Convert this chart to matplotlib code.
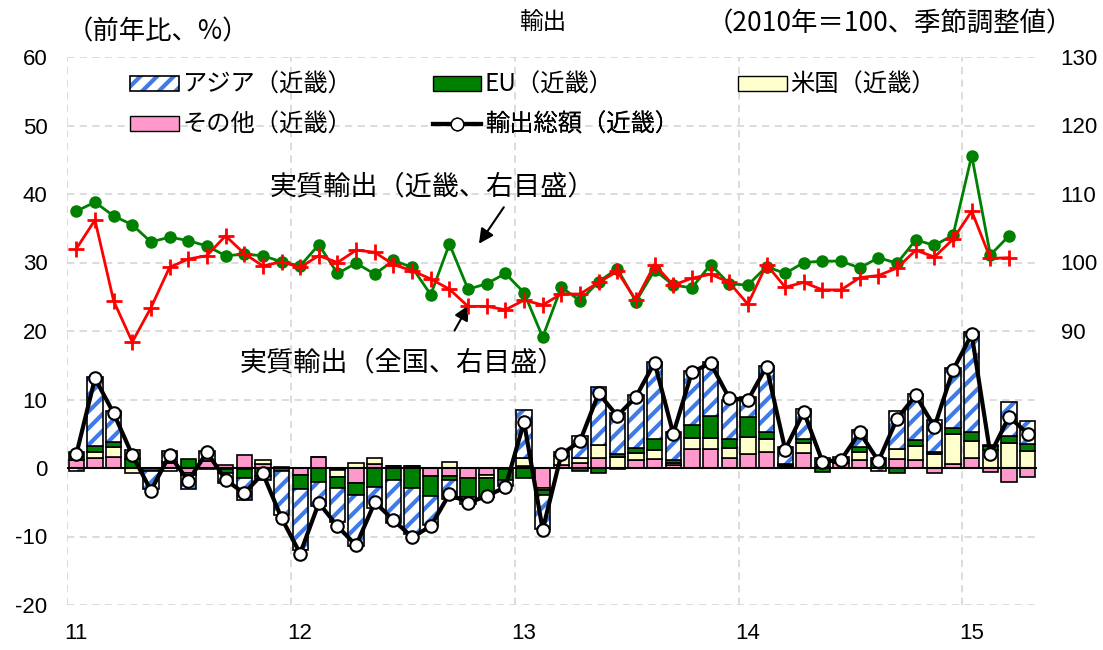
import numpy as np
import matplotlib.pyplot as plt
from matplotlib.patches import Patch
from matplotlib.lines import Line2D

plt.rcParams['font.family'] = ['Noto Sans CJK JP', 'DejaVu Sans']
plt.rcParams['hatch.linewidth'] = 3.0
plt.rcParams['axes.unicode_minus'] = False

# contributions to y/y change of Kinki exports (% pt), Jan 2011 - Apr 2015
asia = [-0.4, 10.1, 4.5, 1.3, -2.6, 1.6, -2.0, 1.5, -1.5, -3.3,
        -0.7, -6.4, -8.8, -3.6, -5.0, -7.5, -3.0, -6.3, -6.7, -4.2,
        -2.8, -0.9, 0.0, -1.0, 7.0, -5.0, 0.5, 3.2, 8.4, 6.0,
        7.8, 11.3, 4.0, 7.9, 7.9, 5.8, 2.9, 9.7, 2.4, 4.4,
        1.4, 0.6, 2.4, -0.5, 5.5, 6.7, 4.7, 8.8, 14.6, 0.2,
        4.9, 3.3]
eu = [1.2, 0.85, 0.8, 1.3, -0.4, 0.2, 1.3, -0.2, -0.5, -1.2,
      -1.1, -0.5, -2.1, -2.0, -1.6, -1.7, -2.8, -1.7, -2.9, -3.0,
      -0.5, -2.9, -2.8, -1.5, -1.5, -0.7, 0.0, -0.4, -0.7, 0.5,
      0.7, 1.5, 0.5, 1.9, 3.2, 1.3, 3.0, 1.0, 0.1, 0.6,
      -0.6, 0.2, 0.7, 1.5, -0.8, 0.9, 0.3, 0.9, 1.3, 0.6,
      1.0, 1.0]
us = [0.1, 0.8, 1.5, -0.7, 0.0, -0.5, -0.2, 0.0, -0.2, -0.2,
      0.6, 0.1, 0.0, 0.0, -1.0, 0.8, 0.8, 0.0, 0.0, 0.0,
      0.9, 0.0, -0.5, 0.0, 1.2, -0.3, 1.3, 0.8, 2.0, 1.6,
      1.0, 1.4, 0.2, 1.6, 1.6, 1.4, 2.4, 1.9, 0.2, 1.4,
      0.1, 0.1, 1.3, 0.0, 1.5, 2.1, 2.0, 4.3, 2.4, 2.6,
      3.7, 2.5]
other = [1.1, 1.5, 1.55, 0.0, 0.0, 0.7, -0.8, 1.0, 0.5, 1.9,
         0.6, 0.0, -1.0, 1.6, -0.3, -2.2, 0.6, 0.3, 0.3, -1.1,
         -1.2, -1.4, -1.0, -0.2, 0.3, -2.9, 0.5, 0.7, 1.4, -0.2,
         1.2, 1.3, 0.5, 2.8, 2.8, 1.5, 2.1, 2.3, 0.3, 2.2,
         0.0, 0.7, 1.1, 0.0, 1.3, 1.1, -0.8, 0.6, 1.5, -0.6,
         -2.0, -1.3]
total = [2.0, 13.1, 8.0, 1.9, -3.3, 1.9, -1.9, 2.3, -1.7, -3.7,
         -0.8, -7.3, -12.5, -5.1, -8.5, -11.3, -5.0, -7.6, -10.1, -8.5,
         -3.8, -5.1, -4.1, -2.8, 6.7, -9.0, 2.0, 3.9, 10.9, 7.6,
         10.4, 15.4, 5.0, 14.0, 15.3, 10.2, 9.9, 14.8, 2.7, 8.2,
         0.9, 1.2, 5.2, 1.0, 7.2, 10.6, 6.0, 14.3, 19.5, 2.0,
         7.5, 5.0]

# real exports (2010=100, s.a.), Jan 2011 - Mar 2015
real_kinki = [107.5, 108.8, 106.8, 105.5, 103.0, 103.7, 103.2, 102.4, 101.0, 101.2,
              101.0, 100.1, 99.5, 102.6, 98.4, 99.9, 98.3, 100.3, 99.3, 95.3,
              102.7, 96.1, 96.9, 98.4, 95.6, 89.1, 96.4, 94.4, 97.2, 99.1,
              94.3, 98.9, 96.7, 96.3, 99.7, 96.9, 96.7, 99.4, 98.4, 100.0,
              100.2, 100.2, 99.2, 100.7, 99.9, 103.3, 102.5, 104.0, 115.6, 101.1,
              103.9]
real_zenkoku = [102.0, 106.2, 94.4, 88.4, 93.4, 99.3, 100.5, 101.0, 103.9, 101.3,
                99.5, 100.1, 99.3, 101.0, 100.0, 101.8, 101.5, 99.7, 98.8, 97.6,
                96.1, 93.6, 93.6, 93.1, 94.5, 93.8, 95.4, 95.4, 97.1, 98.7,
                94.5, 99.7, 96.7, 97.7, 98.3, 97.1, 93.9, 99.7, 96.4, 97.1,
                96.0, 96.0, 97.8, 98.1, 99.2, 101.8, 100.8, 103.4, 107.5, 100.6,
                100.7]

year_labels = ['11', '12', '13', '14', '15']

c_asia = '#3f7be8'
c_eu = '#008000'
c_us = '#ffffcc'
c_other = '#ff99cc'

fig = plt.figure(figsize=(11.03, 6.5), dpi=100)
ax = fig.add_axes([67 / 1103, 45 / 650, 970 / 1103, 548 / 650])

x = np.arange(len(total)) + 0.5
w = 0.82
pos = np.zeros(len(total))
neg = np.zeros(len(total))
for vals, fc in [(other, c_other), (us, c_us), (eu, c_eu), (asia, None)]:
    v = np.array(vals)
    bottom = np.where(v >= 0, pos, neg)
    if fc is None:
        ax.bar(x, v, w, bottom=bottom, color='white', edgecolor=c_asia,
               hatch='//', linewidth=0, zorder=2)
        ax.bar(x, v, w, bottom=bottom, fill=False, edgecolor='black',
               linewidth=1.2, zorder=2)
    else:
        ax.bar(x, v, w, bottom=bottom, color=fc, edgecolor='black',
               linewidth=1.2, zorder=2)
    pos += np.where(v >= 0, v, 0)
    neg += np.where(v < 0, v, 0)

ax.axhline(0, color='black', lw=1.5, zorder=3)
ax.plot(x, total, color='black', lw=3, marker='o', ms=9, mfc='white',
        mec='black', mew=1.5, zorder=5)

ax.set_xlim(0, len(total))
ax.set_ylim(-20, 60)
ax.set_yticks(range(-20, 61, 10))
ax.set_xticks([0, 12, 24, 36, 48])
ax.set_xticklabels([])
ax.set_xticks([0.5, 12.5, 24.5, 36.5, 48.5], minor=True)
ax.set_xticklabels(year_labels, minor=True, family='Liberation Sans', fontsize=16)
ax.tick_params(axis='x', which='both', length=0, pad=13)
ax.tick_params(axis='y', length=0, pad=14, labelsize=16)
for lab in ax.get_yticklabels():
    lab.set_family('Liberation Sans')
ax.grid(True, ls=(0, (4, 3)), color='#d9d9d9', lw=1.3)
ax.set_axisbelow(True)
for s in ax.spines.values():
    s.set_visible(False)

ax2 = ax.twinx()
xr = np.arange(len(real_kinki)) + 0.5
ax2.plot(xr, real_kinki, color=c_eu, lw=2, marker='o', ms=8, zorder=3)
ax2.plot(xr, real_zenkoku, color='red', lw=2, marker='+', ms=11, mew=2, zorder=4)
ax2.set_ylim(50, 130)
ax2.set_yticks([90, 100, 110, 120, 130])
ax2.tick_params(axis='y', length=0, pad=17, labelsize=16)
for lab in ax2.get_yticklabels():
    lab.set_family('Liberation Sans')
for s in ax2.spines.values():
    s.set_visible(False)

# legend, placed entry by entry
h_asia = (Patch(facecolor='white', edgecolor=c_asia, hatch='//', lw=0),
          Patch(fill=False, edgecolor='black', lw=1.2))
entries = [
    (h_asia, 'アジア（近畿）', 0.065, 0.949),
    (Patch(facecolor=c_eu, edgecolor='black'), 'EU（近畿）', 0.377, 0.949),
    (Patch(facecolor=c_us, edgecolor='black'), '米国（近畿）', 0.692, 0.949),
    (Patch(facecolor=c_other, edgecolor='black'), 'その他（近畿）', 0.065, 0.876),
    (Line2D([], [], color='black', lw=3, marker='o', ms=9, mfc='white', mec='black'),
     '輸出総額（近畿）', 0.377, 0.876),
]
for h, lab, lx, ly in entries:
    leg = ax2.legend([h], [lab], loc='center left', bbox_to_anchor=(lx, ly),
                     frameon=False, fontsize=17.5, handlelength=2.0, handleheight=0.55,
                     handletextpad=0.15, borderpad=0, borderaxespad=0)
    ax2.add_artist(leg)

# annotations
ax.text(19.6, 41.0, '実質輸出（近畿、右目盛）', fontsize=19.5, ha='center', va='center')
ax.annotate('', xy=(22.0, 32.4), xytext=(23.5, 38.4),
            arrowprops=dict(arrowstyle='-|>', color='black', lw=1.5, mutation_scale=22))
ax.text(18.0, 15.3, '実質輸出（全国、右目盛）', fontsize=19.5, ha='center', va='center')
ax.annotate('', xy=(21.6, 24.1), xytext=(20.7, 19.7),
            arrowprops=dict(arrowstyle='-|>', color='black', lw=1.5, mutation_scale=22))

fig.text(158 / 1103, 1 - 32 / 650, '（前年比、%）', fontsize=19, ha='center', va='center')
fig.text(543 / 1103, 1 - 22 / 650, '輸出', fontsize=17, ha='center', va='center')
fig.text(890 / 1103, 1 - 24 / 650, '（2010年＝100、季節調整値）', fontsize=19,
         ha='center', va='center')

fig.savefig('out.png', dpi=100)
